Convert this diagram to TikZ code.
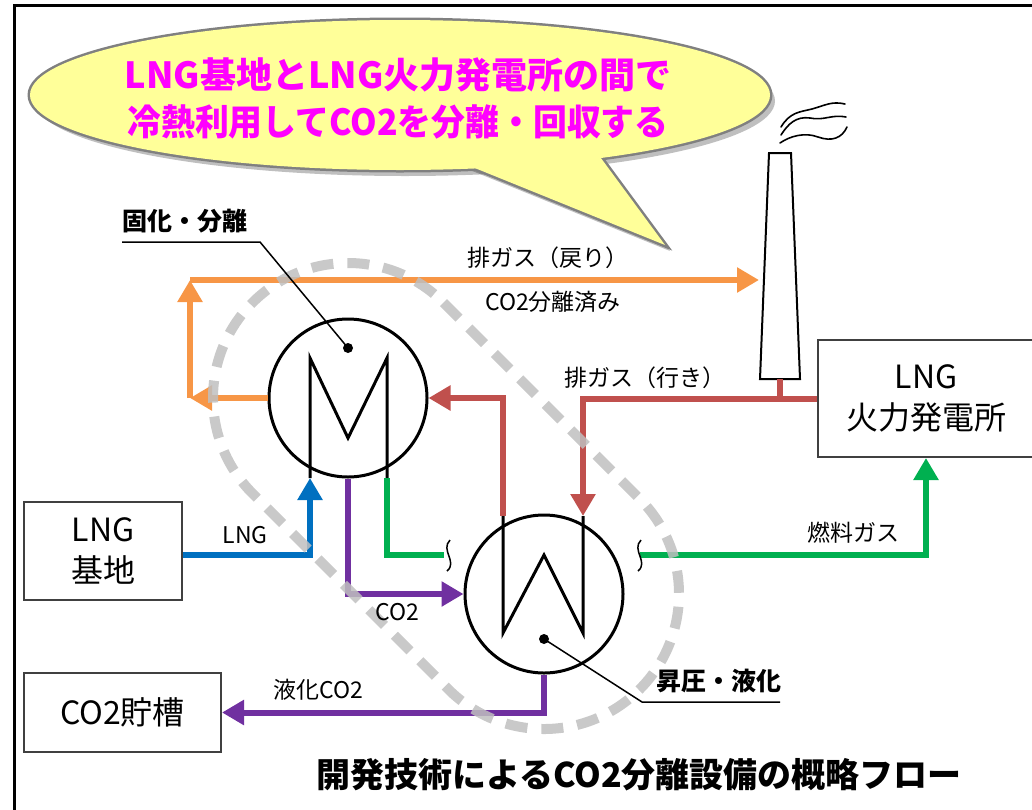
\documentclass[tikz,border=0pt]{standalone}
\usepackage{fontspec}
\setmainfont{Noto Sans CJK JP}
\usetikzlibrary{arrows.meta}

\definecolor{exhaust}{HTML}{F79646}
\definecolor{flue}{HTML}{C0504D}
\definecolor{fuel}{HTML}{00B050}
\definecolor{lngblue}{HTML}{0070C0}
\definecolor{co2}{HTML}{7030A0}
\definecolor{bandgray}{HTML}{BFBFBF}
\definecolor{bubblefill}{HTML}{FFFF99}
\definecolor{bubbleline}{HTML}{808080}
\definecolor{bubbletext}{HTML}{FF00FF}
\definecolor{boxline}{HTML}{404040}

\tikzset{
  pipe/.style={line width=6pt},
  flow/.style={pipe, -{Triangle[length=22pt,width=24pt]}},
  hx/.style={circle, draw, line width=3pt, minimum size=158pt, inner sep=0pt},
  tube/.style={line width=3pt, line join=miter},
  facility/.style={draw=boxline, line width=2pt, align=center,
    font=\fontsize{32}{41}\selectfont, inner sep=0pt},
  lbl/.style={font=\fontsize{23}{28}\selectfont, inner sep=0pt},
  tag/.style={font=\bfseries\fontsize{25}{30}\selectfont, inner sep=0pt, anchor=west},
  leader/.style={line width=1.5pt},
  brk/.style={line width=1.5pt},
  smoke/.style={line width=1.6pt, line cap=round},
  bandline/.style={draw=bandgray, line width=10pt, dash pattern=on 22pt off 14pt, opacity=.85},
}

\begin{document}
\begin{tikzpicture}[x=1pt,y=-1pt]
\useasboundingbox (0,0) rectangle (1032,809);
\clip (0,0) rectangle (1032,809);

% frame (only the top and left edges fall inside the page)
\draw[line width=3pt] (1040,5) -- (14,5) -- (14,815);

% speech bubble: shadow, outline, then fill over the inner half of the outline
\begin{scope}[shift={(5,6)}]
  \fill[black, opacity=.25] (400,95) ellipse [x radius=370, y radius=75];
  \fill[black, opacity=.25] (455,160) -- (665,245) -- (595,150) -- cycle;
\end{scope}
\draw[bubbleline, line width=5pt, line join=round] (400,95) ellipse [x radius=370, y radius=75];
\draw[bubbleline, line width=5pt, line join=miter] (455,160) -- (665,245) -- (595,150) -- cycle;
\fill[bubblefill] (400,95) ellipse [x radius=370, y radius=75];
\fill[bubblefill] (455,160) -- (665,245) -- (595,150) -- cycle;
\node[align=center, text=bubbletext, font=\bfseries\fontsize{36}{47}\selectfont, inner sep=0pt]
  (msg) at (398,98.5) {LNG基地とLNG火力発電所の間で\\\scalebox{0.94}[1]{冷熱利用してCO2を分離・回収する}};

% facilities
\node[facility, minimum width=158pt, minimum height=98pt] (base) at (103,551) {LNG\\基地};
\node[facility, minimum width=197pt, minimum height=79pt] (tank) at (122.5,712.5) {CO2貯槽};
\node[facility, minimum width=216pt, minimum height=117pt] (plant) at (926,398.5) {LNG\\火力発電所};

% stack with smoke
\draw[line width=2pt, fill=white, line join=miter] (769,153) -- (791,153) -- (800,379) -- (760,379) -- cycle;
\coordinate (stackfoot) at (780,379);
\coordinate (stackin) at (759,280);
\draw[smoke] (781,127) .. controls (790,112) and (800,112) .. (812,109) .. controls (826,105) and (832,101) .. (845,104);
\draw[smoke] (781,135) .. controls (788,124) and (796,116) .. (810,118) .. controls (824,121) and (832,114) .. (846,117);
\draw[smoke] (780,143) .. controls (790,136) and (805,132) .. (818,137) .. controls (832,142) and (842,138) .. (847,127);

% heat exchangers
\node[hx] (M) at (348,398) {};
\node[hx] (W) at (544,594) {};

\coordinate (Min) at (310,478);
\coordinate (Mout) at (387,478);
\draw[tube] (Min) -- (310,358) -- (348,438) -- (387,358) -- (Mout);
\coordinate (Win) at (583,516);
\coordinate (Wout) at (503,516);
\draw[tube] (Wout) -- (503,633) -- (544,555) -- (583,633) -- (Win);

% exhaust gas to and from the separator
\draw[pipe, flue] (stackfoot) -- (stackfoot |- plant.west);
\draw[flow, flue] (plant.west) -| (Win);
\draw[flow, flue] (Wout) |- (M.east);

\coordinate (oc1) at (190,398);
\coordinate (oc2) at (190,280);
\draw[flow, exhaust] (M.west) -- (oc1);
\draw[flow, exhaust] (oc1) -- (oc2);
\draw[flow, exhaust] (oc2) -- (stackin);

% LNG feed and fuel gas
\draw[flow, lngblue] ([yshift=-4pt]base.east) -| (Min);
\coordinate (brkL) at (444,555);
\coordinate (brkR) at (640,555);
\draw[pipe, fuel] (Mout) |- (brkL);
\draw[flow, fuel] (brkR) -| (plant.south);
\draw[brk] (450,540) .. controls (440,550) and (458,562) .. (447,571);
\draw[brk] (641,540) .. controls (631,550) and (649,562) .. (638,571);

% CO2
\draw[flow, co2] (M.south) |- (W.west);
\draw[flow, co2] (W.south) |- (tank.east);

% dashed band round both exchangers
\begin{scope}[shift={(446,496)}, rotate=-45]
  \draw[bandline] (-138.6,-135) -- (138.6,-135) arc[start angle=-90, end angle=90, radius=135]
    -- (-138.6,135) arc[start angle=90, end angle=270, radius=135] -- cycle;
\end{scope}

% leaders and tags
\fill (348,348) circle[radius=5];
\draw[leader] (348,348) -- (260,242) -- (122,242);
\node[tag] (tagM) at (122,221) {固化・分離};
\fill (544,639) circle[radius=5];
\draw[leader] (544,639) -- (642,702) -- (780,702);
\node[tag] (tagW) at (656,681) {昇圧・液化};

% flow labels
\node[lbl] (l1) at (548,258) {排ガス（戻り）};
\node[lbl] (l2) at (553,302) {CO2分離済み};
\node[lbl] (l3) at (645,378) {排ガス（行き）};
\node[lbl] (l4) at (245,535) {LNG};
\node[lbl] (l5) at (397,612) {CO2};
\node[lbl] (l6) at (318,690) {液化CO2};
\node[lbl] (l7) at (853,533) {燃料ガス};

% title
\node[font=\bfseries\fontsize{34}{40}\selectfont, inner sep=0pt] (title) at (639,775)
  {開発技術によるCO2分離設備の概略フロー};
\end{tikzpicture}
\end{document}
